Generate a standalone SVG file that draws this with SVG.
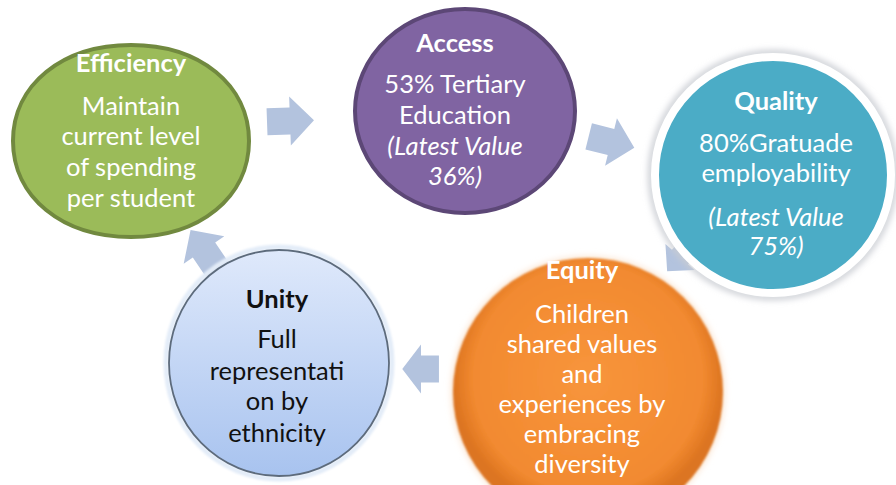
<svg xmlns="http://www.w3.org/2000/svg" width="896" height="485" viewBox="0 0 896 485">
<style>
text{font-family:Lato,"Open Sans","Liberation Sans",sans-serif;font-size:25.5px;text-anchor:middle;fill:#fff}
.h{font-weight:bold}
.i{font-style:italic}
.dark{fill:#111}
.arrow{fill:#b3c3de}
</style>
<defs>
<path id="arr" d="M-23,-13.5 L0,-13.5 L0,-24.5 L24,0 L0,24.5 L0,13.5 L-23,13.5 Z"/>
<radialGradient id="og" cx="0.5" cy="0.45" r="0.5">
<stop offset="0" stop-color="#f8953c"/>
<stop offset="0.85" stop-color="#f28a30"/>
<stop offset="1" stop-color="#dc7420"/>
</radialGradient>
<linearGradient id="bg" x1="0" y1="0" x2="0" y2="1">
<stop offset="0" stop-color="#dfe9fb"/>
<stop offset="1" stop-color="#a8c3ef"/>
</linearGradient>
<filter id="blur" x="-20%" y="-20%" width="140%" height="140%"><feGaussianBlur stdDeviation="3"/></filter>
<filter id="soft" x="-10%" y="-10%" width="120%" height="120%"><feGaussianBlur stdDeviation="1.2"/></filter>
</defs>
<rect width="896" height="485" fill="#fff"/>
<g id="connectors">
<use href="#arr" class="arrow" transform="translate(290,121) rotate(-2)"/>
<use href="#arr" class="arrow" transform="translate(611,142) rotate(14)"/>
<use href="#arr" class="arrow" transform="translate(680,257) rotate(132) scale(0.8)"/>
<use href="#arr" class="arrow" transform="translate(421,369) rotate(180) scale(0.78,1)"/>
<use href="#arr" class="arrow" transform="translate(204,250) rotate(-124)"/>
</g>
<g id="efficiency">
<path d="M131,45 C200,45 249,85 249,141 C249,197 200,237 131,237 C62,237 13,197 13,141 C13,85 62,45 131,45 Z" fill="#9bbb59" stroke="#71893f" stroke-width="4"/>
<text class="h" x="131" y="72">Efficiency</text>
<text x="131" y="115">Maintain</text>
<text x="131" y="145">current level</text>
<text x="131" y="176">of spending</text>
<text x="131" y="207">per student</text>
</g>
<g id="access">
<ellipse cx="465" cy="111" rx="110" ry="102" fill="#8064a2" stroke="#5c4776" stroke-width="4"/>
<text class="h" x="455" y="52">Access</text>
<text x="455" y="93">53% Tertiary</text>
<text x="455" y="124">Education</text>
<text class="i" x="455" y="155">(Latest Value</text>
<text class="i" x="455" y="185">36%)</text>
</g>
<g id="quality">
<circle cx="773" cy="175" r="122" fill="none" stroke="#c9ccd2" stroke-width="6" filter="url(#blur)"/>
<circle cx="773" cy="175" r="118" fill="#4bacc6" stroke="#fff" stroke-width="8"/>
<text class="h" x="776" y="110">Quality</text>
<text x="776" y="152">80%Gratuade</text>
<text x="776" y="182">employability</text>
<text class="i" x="776" y="226">(Latest Value</text>
<text class="i" x="776" y="255">75%)</text>
</g>
<g id="equity">
<ellipse cx="588" cy="392" rx="137" ry="136" fill="#fbe6d3" filter="url(#blur)"/>
<ellipse cx="588" cy="392" rx="135" ry="134" fill="url(#og)" filter="url(#soft)"/>
<text class="h" x="582" y="279">Equity</text>
<text x="582" y="323">Children</text>
<text x="582" y="353">shared values</text>
<text x="582" y="383">and</text>
<text x="582" y="413">experiences by</text>
<text x="582" y="443">embracing</text>
<text x="582" y="473">diversity</text>
</g>
<g id="unity">
<ellipse cx="279" cy="363" rx="113" ry="116" fill="none" stroke="#e3ecf8" stroke-width="5" filter="url(#soft)"/>
<ellipse cx="279" cy="363" rx="110" ry="113" fill="url(#bg)" stroke="#5d6b7c" stroke-width="1.8"/>
<text class="h dark" x="277" y="308">Unity</text>
<text class="dark" x="277" y="348">Full</text>
<text class="dark" x="277" y="380">representati</text>
<text class="dark" x="277" y="410">on by</text>
<text class="dark" x="277" y="442">ethnicity</text>
</g>
</svg>
